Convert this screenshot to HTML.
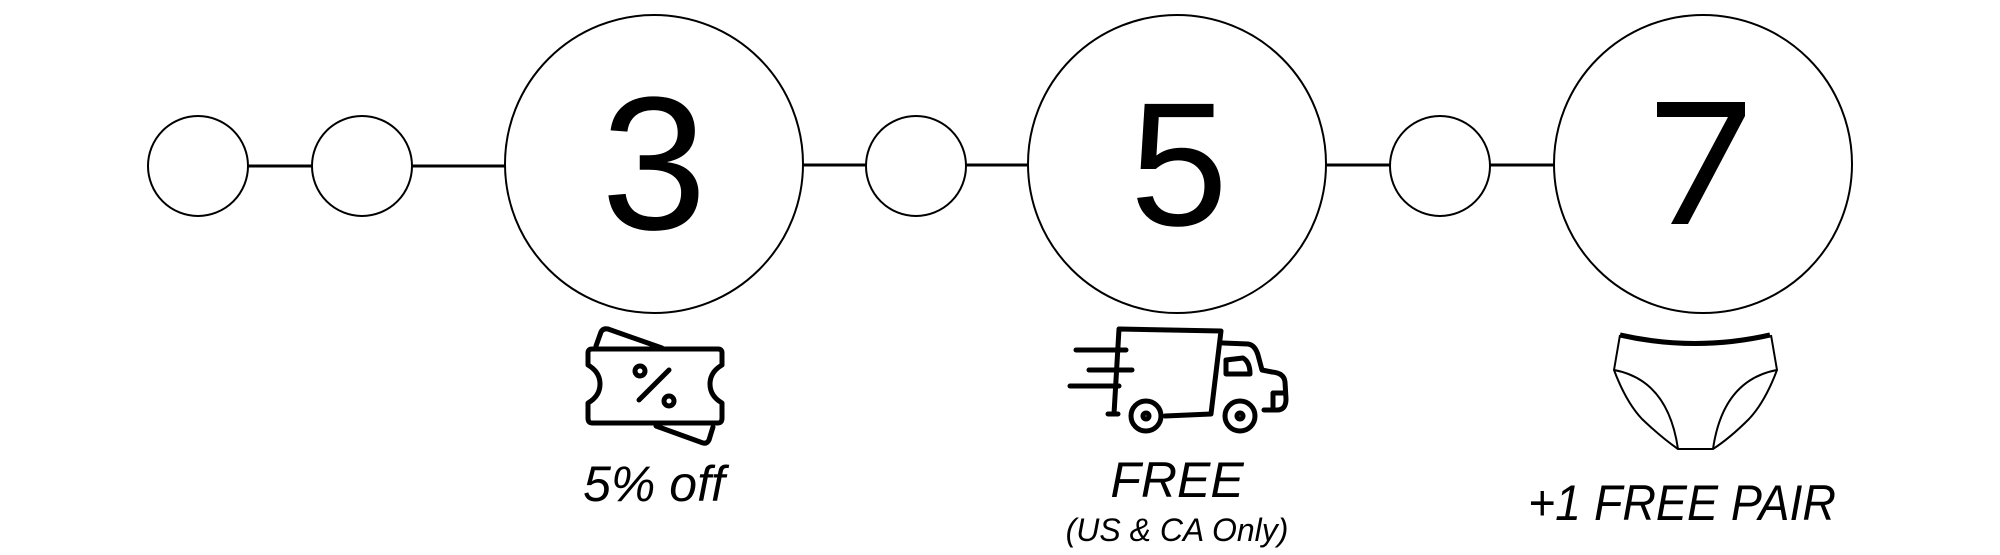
<!DOCTYPE html>
<html><head><meta charset="utf-8"><style>
html,body{margin:0;padding:0;background:#fff;}
svg{display:block;}
text{font-family:"Liberation Sans",sans-serif;fill:#000;}
</style></head><body>
<svg width="2000" height="555" viewBox="0 0 2000 555" xmlns="http://www.w3.org/2000/svg">
<g stroke="#000" stroke-width="3" fill="none">
<line x1="248" y1="166" x2="312" y2="166"/>
<line x1="412" y1="166" x2="505" y2="166"/>
<line x1="803" y1="165" x2="866" y2="165"/>
<line x1="966" y1="165" x2="1028" y2="165"/>
<line x1="1326" y1="165" x2="1390" y2="165"/>
<line x1="1490" y1="165" x2="1554" y2="165"/>
</g>
<g stroke="#000" stroke-width="2" fill="#fff">
<circle cx="198" cy="166" r="50"/>
<circle cx="362" cy="166" r="50"/>
<circle cx="654" cy="164" r="149"/>
<circle cx="916" cy="166" r="50"/>
<circle cx="1177" cy="164" r="149"/>
<circle cx="1440" cy="166" r="50"/>
<circle cx="1703" cy="164" r="149"/>
</g>
<text x="654" y="229" font-size="190" text-anchor="middle">3</text>
<text x="1179" y="225" font-size="176" text-anchor="middle">5</text>
<polygon points="1657,102 1745,102 1745,116 1688,224 1671,224 1728,117 1657,117" fill="#000"/>

<!-- ticket -->
<g stroke="#000" stroke-width="5" fill="none" stroke-linejoin="round" stroke-linecap="round">
<path d="M596 346 L601 332 Q603 328 608 329 L662 348"/>
<path d="M656 426 L703 443 Q707 444 709 440 L713 427"/>
<path d="M592 349 H718 Q722 349 722 353 V365 Q710 372 710 384 Q710 396 722 403 V418 Q722 423 718 423 H592 Q588 423 588 418 V403 Q600 396 600 384 Q600 372 588 365 V353 Q588 349 592 349 Z"/>
<line x1="639" y1="400" x2="669" y2="370"/>
<circle cx="640" cy="371" r="5"/>
<circle cx="669" cy="401" r="5"/>
</g>
<text x="654" y="501" font-size="50" font-style="italic" text-anchor="middle">5% off</text>

<!-- truck -->
<g stroke="#000" stroke-width="5" fill="none" stroke-linejoin="round" stroke-linecap="round">
<path d="M1114 414 L1119 329 L1221 331 L1211 414 L1165 416"/>
<path d="M1223 343 L1248 344 Q1255 345 1258 355 L1262 370 L1272 372 Q1284 373 1285 382 L1286 399 Q1286 410 1277 410 L1264 410"/>
<path d="M1226 360 L1226 374 L1250 374 Q1250 362 1243 358 Z"/>
<path d="M1273 407 V393 H1284"/>
<line x1="1076" y1="350" x2="1126" y2="350"/>
<line x1="1089" y1="370" x2="1132" y2="370"/>
<line x1="1070" y1="386" x2="1119" y2="386"/>
<line x1="1108" y1="414" x2="1118" y2="414"/>
<circle cx="1146" cy="416" r="15"/>
<circle cx="1146" cy="416" r="3"/>
<circle cx="1240" cy="416" r="15"/>
<circle cx="1240" cy="416" r="3"/>
</g>
<text x="1177" y="497" font-size="50" font-style="italic" text-anchor="middle">FREE</text>
<text x="1177" y="541" font-size="32" font-style="italic" text-anchor="middle">(US &amp; CA Only)</text>

<!-- briefs -->
<g stroke="#000" fill="none" stroke-linejoin="round">
<path d="M1620 335 Q1695 352 1770 335" stroke-width="5"/>
<path d="M1620 335 L1614 370 Q1626 402 1642 419 Q1662 438 1678 449 H1713 Q1730 438 1749 419 Q1765 402 1777 370 L1771 335" stroke-width="2"/>
<path d="M1614 370 Q1668 380 1678 449" stroke-width="2"/>
<path d="M1777 370 Q1723 380 1713 449" stroke-width="2"/>
</g>
<text x="1682" y="520" font-size="50" font-style="italic" text-anchor="middle" textLength="308" lengthAdjust="spacingAndGlyphs">+1 FREE PAIR</text>
</svg>
</body></html>
